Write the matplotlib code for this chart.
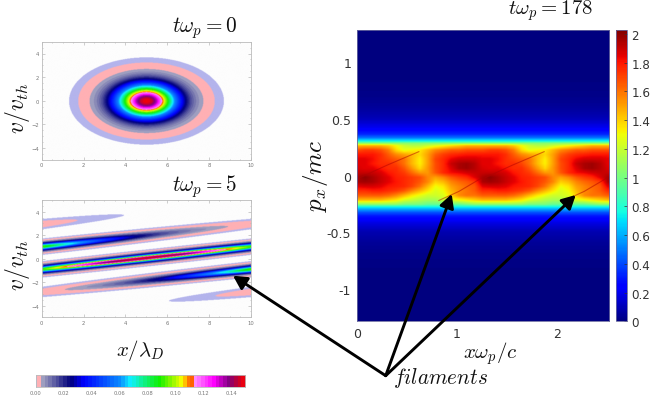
import numpy as np
import matplotlib
matplotlib.use("Agg")
from matplotlib import pyplot as plt
from matplotlib.colors import BoundaryNorm, LinearSegmentedColormap, ListedColormap

plt.rcParams['mathtext.fontset'] = 'cm'

radius = [0, .25, .5, .75, 1, 1.25, 1.5, 1.75, 2, 2.25, 2.5, 2.75, 3, 3.25, 3.5, 3.75, 4]
f_radius = [.15, .1454, .1324, .1132, .091, .0687, .0487, .0324, .0203, .0119,
            .0066, .0034, .0017, .00076, .00033, .00013, .00005]
box_x = 10
center_x = 5
t_free = 5

# colour stops of the left colour bar
bar_values = [.0036, .0246, .034, .06, .0675, .088, .105, .108, .1139, .114, .127, .138, .144, .15]
bar_colors = ['#a8a8c4', '#00007a', '#0000ff', '#0a8cff', '#10f0ff', '#10f000', '#ffff00',
              '#ff8000', '#ff5000', '#ff90ff', '#ff00ff', '#800080', '#c00030', '#ff0000']
bar_ticks = [0, .02, .04, .06, .08, .10, .12, .14]

# right panel, one period of the pattern, read row by row
period = 1.25
p_core = [.26, .22, .18, .14, .10, .06, .02, -.02, -.06, -.10, -.14, -.18, -.22, -.26]
f_core = [
    [1.45, 1.45, 1.45, 1.45, 1.40, 1.30, 1.20, 1.15, 1.15, 1.20, 1.25, 1.30, 1.35, 1.40, 1.45, 1.45],
    [1.68, 1.72, 1.72, 1.68, 1.58, 1.38, 1.28, 1.32, 1.35, 1.45, 1.55, 1.60, 1.65, 1.65, 1.68, 1.68],
    [1.80, 1.80, 1.80, 1.75, 1.65, 1.55, 1.50, 1.45, 1.38, 1.50, 1.65, 1.72, 1.76, 1.78, 1.80, 1.80],
    [1.85, 1.85, 1.82, 1.75, 1.70, 1.65, 1.60, 1.45, 1.33, 1.50, 1.70, 1.76, 1.84, 1.88, 1.88, 1.88],
    [1.85, 1.85, 1.80, 1.75, 1.75, 1.70, 1.60, 1.45, 1.33, 1.50, 1.68, 1.76, 1.90, 1.95, 1.97, 1.93],
    [1.87, 1.85, 1.85, 1.80, 1.75, 1.75, 1.66, 1.52, 1.38, 1.52, 1.68, 1.76, 1.86, 1.95, 1.97, 1.93],
    [1.90, 1.90, 1.90, 1.87, 1.80, 1.76, 1.72, 1.62, 1.52, 1.52, 1.66, 1.76, 1.82, 1.84, 1.88, 1.90],
    [1.95, 2.00, 1.95, 1.90, 1.85, 1.78, 1.76, 1.72, 1.68, 1.56, 1.50, 1.56, 1.66, 1.72, 1.76, 1.86],
    [1.95, 1.97, 1.95, 1.90, 1.85, 1.80, 1.76, 1.72, 1.66, 1.56, 1.40, 1.45, 1.56, 1.62, 1.66, 1.72],
    [1.85, 1.87, 1.87, 1.85, 1.80, 1.78, 1.76, 1.70, 1.60, 1.45, 1.30, 1.35, 1.50, 1.56, 1.62, 1.66],
    [1.75, 1.75, 1.78, 1.78, 1.75, 1.72, 1.66, 1.55, 1.45, 1.35, 1.25, 1.30, 1.45, 1.55, 1.60, 1.65],
    [1.65, 1.65, 1.65, 1.65, 1.62, 1.55, 1.45, 1.35, 1.28, 1.22, 1.22, 1.25, 1.40, 1.55, 1.60, 1.60],
    [1.45, 1.45, 1.45, 1.45, 1.40, 1.35, 1.25, 1.20, 1.15, 1.12, 1.12, 1.20, 1.25, 1.30, 1.35, 1.40],
    [1.05, 1.05, 1.05, 1.05, 1.05, 1.05, 1.00, 1.00, 1.00, 0.95, 0.95, 0.95, 0.95, 0.95, 1.00, 1.05],
]
# tails above and below the core
p_tail_top = [1.3, .85, .7, .6, .5, .42, .36, .33, .30, .28]
f_tail_top = [0, .005, .02, .05, .10, .20, .33, .48, .75, 1.05]
p_tail_bot = [-.28, -.30, -.33, -.36, -.42, -.5, -.6, -.7, -.85, -1.3]
f_tail_bot = [.75, .60, .42, .30, .18, .09, .045, .02, .005, 0]
# thin dark filaments
fil_x = [[.03, .30, .62], [.82, 1.02, 1.25]]
fil_p = [[-.02, .09, .21], [-.22, -.14, -.02]]

right_xticks = [0, 1, 2]
right_yticks = [-1, -.5, 0, .5, 1]
right_yticklabels = ['-1', '-0.5', '0', '0.5', '1']
right_cticks = [0, .2, .4, .6, .8, 1, 1.2, 1.4, 1.6, 1.8, 2]
right_cticklabels = ['0', '0.2', '0.4', '0.6', '0.8', '1', '1.2', '1.4', '1.6', '1.8', '2']

W, H = 652, 402


def px_axes(fig, left, top, right, bottom):
    return fig.add_axes([left / W, 1 - bottom / H, (right - left) / W, (bottom - top) / H])


def make_left_cmap():
    stops = (np.array(bar_values) - bar_values[0]) / (bar_values[-1] - bar_values[0])
    ramp = LinearSegmentedColormap.from_list('bands', list(zip(stops, bar_colors)), N=512)
    bounds = list(np.arange(bar_values[0], .15, .0026)) + [.1501]
    mids = (np.array(bounds[:-1]) + np.array(bounds[1:])) / 2
    cols = [ramp((m - bar_values[0]) / (bar_values[-1] - bar_values[0])) for m in mids]
    cmap = ListedColormap(['#b4b4ec', '#ffb0b4'] + cols)
    cmap.set_under('#fdfdfd')
    return cmap, BoundaryNorm([.00015, .0007] + bounds, cmap.N)


def distribution(x, v):
    r = np.sqrt((x - center_x) ** 2 + v ** 2)
    return np.exp(np.interp(r, radius, np.log(f_radius)))


def left_panel(ax, field, cmap, norm):
    ax.imshow(field, extent=[0, 10, -5, 5], origin='lower', aspect='auto', cmap=cmap, norm=norm,
              interpolation='bilinear', interpolation_stage='rgba')
    ax.set_xlim(0, 10)
    ax.set_ylim(-5, 5)
    ax.set_xticks(np.arange(0, 11, 2))
    ax.set_yticks(np.arange(-4, 5, 2))
    ax.set_xticks(np.arange(0, 10.1, .5), minor=True)
    ax.set_yticks(np.arange(-5, 5.1, .5), minor=True)
    ax.tick_params(which='both', direction='in', top=True, right=True, color='#aaaaaa',
                   length=2, width=.4, labelsize=3.8, labelcolor='#777777', pad=2)
    ax.tick_params(which='minor', length=1)
    for s in ax.spines.values():
        s.set_color('#bbbbbb')
        s.set_linewidth(.6)


def right_field():
    col_x = np.arange(16) * period / 16
    core = np.array(f_core)
    tail_top = np.tile(f_tail_top, (16, 1)).T
    tail_bot = np.tile(f_tail_bot, (16, 1)).T
    # rows go from bottom to top for interpolation
    rows_p = np.array(p_tail_bot[::-1] + p_core[::-1] + p_tail_top[::-1])
    rows_f = np.vstack([tail_bot[::-1], core[::-1], tail_top[::-1]])
    fine_p = np.linspace(-1.285, 1.285, 500)
    fine_x = np.linspace(0, 2.52, 500)
    by_p = np.array([np.interp(fine_p, rows_p, rows_f[:, j]) for j in range(16)])
    field = np.array([np.interp(fine_x, col_x, by_p[:, i], period=period) for i in range(500)])
    return field


def main():
    fig = plt.figure(figsize=(W / 100, H / 100), dpi=100)
    cmap, norm = make_left_cmap()

    xx, vv = np.meshgrid(np.linspace(0, 10, 500), np.linspace(-5, 5, 300))
    ax0 = px_axes(fig, 41.7, 42.7, 250.7, 160.7)
    left_panel(ax0, distribution(xx, vv), cmap, norm)
    # free streaming of the same profile in a periodic box
    ax1 = px_axes(fig, 41.7, 201, 250.7, 318.3)
    left_panel(ax1, distribution((xx - t_free * vv) % box_x, vv), cmap, norm)

    cax0 = px_axes(fig, 35.7, 376, 245, 388)
    ramp = np.linspace(0, .15, 800)[None, :]
    cax0.imshow(ramp, extent=[0, .15, 0, 1], aspect='auto', cmap=cmap, norm=norm, interpolation='nearest')
    cax0.set_yticks([])
    cax0.set_xticks(bar_ticks)
    cax0.set_xticklabels(['%.2f' % b for b in bar_ticks])
    cax0.tick_params(length=0, labelsize=3.8, labelcolor='#777777', pad=2.5)
    for s in cax0.spines.values():
        s.set_color('#bbbbbb')
        s.set_linewidth(.6)

    ax2 = px_axes(fig, 356.7, 30.7, 609.3, 322.3)
    im = ax2.imshow(right_field(), extent=[0, 2.52, -1.285, 1.285], origin='lower', aspect='auto',
                    cmap='jet', vmin=0, vmax=2.03, interpolation='bilinear')
    for k in range(3):
        for fx, fp in zip(fil_x, fil_p):
            ax2.plot(np.array(fx) + k * period, fp, color='#b00000', lw=.8, alpha=.5)
    ax2.set_xlim(0, 2.52)
    ax2.set_ylim(-1.285, 1.285)
    ax2.set_xticks(right_xticks)
    ax2.set_yticks(right_yticks)
    ax2.set_yticklabels(right_yticklabels)
    ax2.tick_params(length=0, labelsize=9, labelcolor='#333333', pad=4)
    for s in ax2.spines.values():
        s.set_color('#6a6aa0')
        s.set_linewidth(.6)

    cax1 = px_axes(fig, 615.7, 30.7, 626.7, 322.3)
    cb = fig.colorbar(im, cax=cax1)
    cb.set_ticks(right_cticks)
    cb.set_ticklabels(right_cticklabels)
    cb.ax.tick_params(length=2, width=.5, direction='in', labelsize=8.6, labelcolor='#333333', pad=3.5, color='#333333')
    cb.outline.set_edgecolor('#6a6aa0')
    cb.outline.set_linewidth(.6)

    # overlay in pixels for the labels and arrows
    over = fig.add_axes([0, 0, 1, 1], zorder=10)
    over.set_xlim(0, W)
    over.set_ylim(H, 0)
    over.axis('off')
    over.patch.set_alpha(0)

    tx = dict(ha='center', va='center', color='#111111')
    over.text(205, 28, r'$t\omega_p=0$', fontsize=15.3, **tx)
    over.text(205, 187, r'$t\omega_p=5$', fontsize=15.3, **tx)
    over.text(550.5, 11, r'$t\omega_p=178$', fontsize=15, **tx)
    over.text(17, 108, r'$v/v_{th}$', fontsize=17, rotation=90, **tx)
    over.text(17, 265, r'$v/v_{th}$', fontsize=17, rotation=90, **tx)
    over.text(140, 351, r'$x/\lambda_D$', fontsize=15, **tx)
    over.text(315, 176, r'$p_x/mc$', fontsize=18, rotation=90, **tx)
    over.text(490, 354, r'$x\omega_p/c$', fontsize=15, **tx)
    over.text(441, 378, r'$filaments$', fontsize=15.3, **tx)

    origin = (385.7, 376.7)
    for tip in [(451.7, 195), (575.7, 196), (233, 276.7)]:
        over.annotate('', xy=tip, xytext=origin,
                      arrowprops=dict(arrowstyle='-|>,head_length=0.45,head_width=0.24', lw=2.1, color='black',
                                      shrinkA=0, shrinkB=0, mutation_scale=18))

    fig.savefig('out.png', dpi=100)


if __name__ == "__main__":
    main()
